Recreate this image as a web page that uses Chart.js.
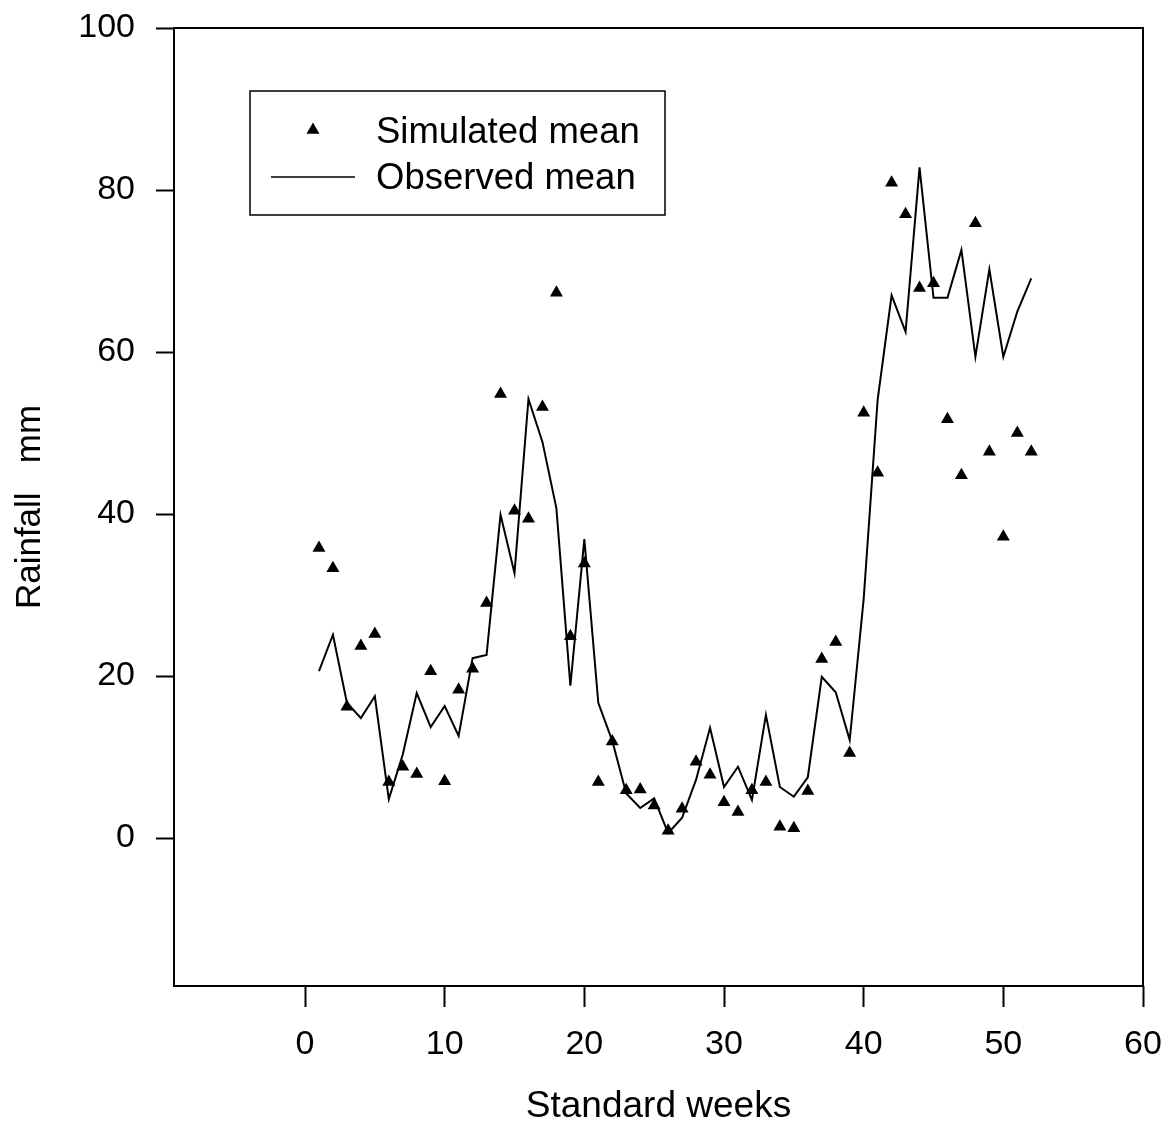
<!DOCTYPE html>
<html>
<head>
<meta charset="utf-8">
<script src="https://cdn.jsdelivr.net/npm/chart.js@4/dist/chart.umd.min.js"></script>
<style>
  html, body { margin: 0; padding: 0; background: #fff; }
  #wrap { width: 1173px; height: 1130px; }
</style>
</head>
<body>
<div id="wrap"><canvas id="myChart" width="1173" height="1130"></canvas></div>
<script>
// weeks 1..52
var weeks = [1, 2, 3, 4, 5, 6, 7, 8, 9, 10, 11, 12, 13, 14, 15, 16, 17, 18, 19, 20,
  21, 22, 23, 24, 25, 26, 27, 28, 29, 30, 31, 32, 33, 34, 35, 36, 37, 38, 39, 40,
  41, 42, 43, 44, 45, 46, 47, 48, 49, 50, 51, 52];

var simulated = [35.8, 33.3, 16.2, 23.7, 25.2, 6.9, 8.8, 7.9, 20.6, 7.0,
  18.3, 20.9, 29.0, 54.8, 40.4, 39.4, 53.2, 67.3, 24.9, 33.9,
  6.9, 11.9, 5.9, 6.0, 4.0, 0.9, 3.6, 9.4, 7.8, 4.4,
  3.2, 5.9, 6.9, 1.4, 1.2, 5.8, 22.1, 24.2, 10.5, 52.5,
  45.1, 80.9, 77.0, 67.9, 68.5, 51.7, 44.8, 75.9, 47.7, 37.2,
  50.0, 47.7];

var observed = [20.6, 25.1, 16.7, 14.8, 17.5, 4.8, 10.3, 17.9, 13.7, 16.3,
  12.6, 22.2, 22.6, 39.9, 32.7, 54.2, 48.9, 40.7, 18.8, 36.9,
  16.7, 12.0, 5.5, 3.7, 4.9, 0.6, 2.5, 7.2, 13.6, 6.3,
  8.8, 4.7, 15.2, 6.3, 5.1, 7.5, 19.9, 18.0, 12.1, 29.5,
  54.1, 67.0, 62.5, 82.8, 66.7, 66.7, 72.6, 59.4, 70.2, 59.4,
  65.0, 69.1];

var xTicks = [0, 10, 20, 30, 40, 50, 60];
var yTicks = [0, 20, 40, 60, 80, 100];

var FONT = '"Liberation Sans", Arial, Helvetica, sans-serif';

Chart.defaults.color = '#000';
Chart.defaults.font.family = FONT;

function toPoints(ys) {
  return weeks.map(function (w, i) { return { x: w, y: ys[i] }; });
}

// frame around the plot area
const framePlugin = {
  id: 'frame',
  afterDatasetsDraw(chart) {
    const a = chart.chartArea;
    const c = chart.ctx;
    c.save();
    c.strokeStyle = '#000';
    c.lineWidth = 2;
    c.strokeRect(a.left, a.top, a.right - a.left, a.bottom - a.top);
    c.restore();
  }
};

// boxed legend inside the plot
const boxLegend = {
  id: 'boxLegend',
  afterDraw(chart) {
    const a = chart.chartArea;
    const c = chart.ctx;
    const bx = a.left + 76, by = a.top + 63, bw = 415, bh = 124;
    c.save();
    c.strokeStyle = '#000';
    c.lineWidth = 1.5;
    c.strokeRect(bx, by, bw, bh);

    // triangle symbol
    c.fillStyle = '#000';
    const tx = bx + 63, ty = by + 39, r = 7.5;
    c.beginPath();
    c.moveTo(tx, ty - r);
    c.lineTo(tx + r * 0.866, ty + r / 2);
    c.lineTo(tx - r * 0.866, ty + r / 2);
    c.closePath();
    c.fill();

    // line symbol
    c.lineWidth = 1.5;
    c.beginPath();
    c.moveTo(bx + 21, by + 86);
    c.lineTo(bx + 105, by + 86);
    c.stroke();

    c.font = '36.5px ' + FONT;
    c.textBaseline = 'alphabetic';
    c.textAlign = 'left';
    const ds = chart.data.datasets;
    c.fillText(ds[0].label, bx + 126, by + 52);
    c.fillText(ds[1].label, bx + 126, by + 98);
    c.restore();
  }
};

var ctx = document.getElementById('myChart');

var myChart = new Chart(ctx, {
  data: {
    datasets: [{
      type: 'scatter',
      label: 'Simulated mean',
      data: toPoints(simulated),
      pointStyle: 'triangle',
      pointRadius: 7.5,
      pointHoverRadius: 7.5,
      backgroundColor: '#000',
      borderColor: '#000',
      borderWidth: 0,
      showLine: false
    }, {
      type: 'line',
      label: 'Observed mean',
      data: toPoints(observed),
      borderColor: '#000',
      borderWidth: 2,
      pointRadius: 0,
      tension: 0,
      fill: false
    }]
  },
  options: {
    responsive: false,
    animation: false,
    layout: { padding: { top: 28, right: 30, left: 0, bottom: 0 } },
    plugins: {
      legend: { display: false },
      tooltip: { enabled: false }
    },
    scales: {
      x: {
        type: 'linear',
        position: 'bottom',
        min: -9.38,
        max: 60,
        afterBuildTicks: function (scale) {
          scale.ticks = xTicks.map(function (v) { return { value: v }; });
        },
        afterFit: function (scale) {
          scale.height = 144;
          scale.paddingLeft = 0;
          scale.paddingRight = 0;
        },
        border: { display: false },
        grid: {
          drawOnChartArea: false,
          drawTicks: true,
          tickLength: 21,
          tickColor: '#000',
          tickWidth: 2
        },
        ticks: {
          font: { size: 34 },
          padding: 17,
          maxRotation: 0
        },
        title: {
          display: true,
          text: 'Standard weeks',
          font: { size: 37, lineHeight: 1 },
          padding: { top: 0, bottom: 5 }
        }
      },
      y: {
        type: 'linear',
        position: 'left',
        min: -18.27,
        max: 100,
        afterBuildTicks: function (scale) {
          scale.ticks = yTicks.map(function (v) { return { value: v }; });
        },
        afterFit: function (scale) {
          scale.width = 174;
          scale.paddingTop = 0;
          scale.paddingBottom = 0;
        },
        border: { display: false },
        grid: {
          drawOnChartArea: false,
          drawTicks: true,
          tickLength: 18,
          tickColor: '#000',
          tickWidth: 2
        },
        ticks: {
          font: { size: 34 },
          padding: 21
        },
        title: {
          display: true,
          text: 'Rainfall   mm',
          font: { size: 35 },
          padding: { top: 9, bottom: 0 }
        }
      }
    }
  },
  plugins: [framePlugin, boxLegend]
});
</script>
</body>
</html>
